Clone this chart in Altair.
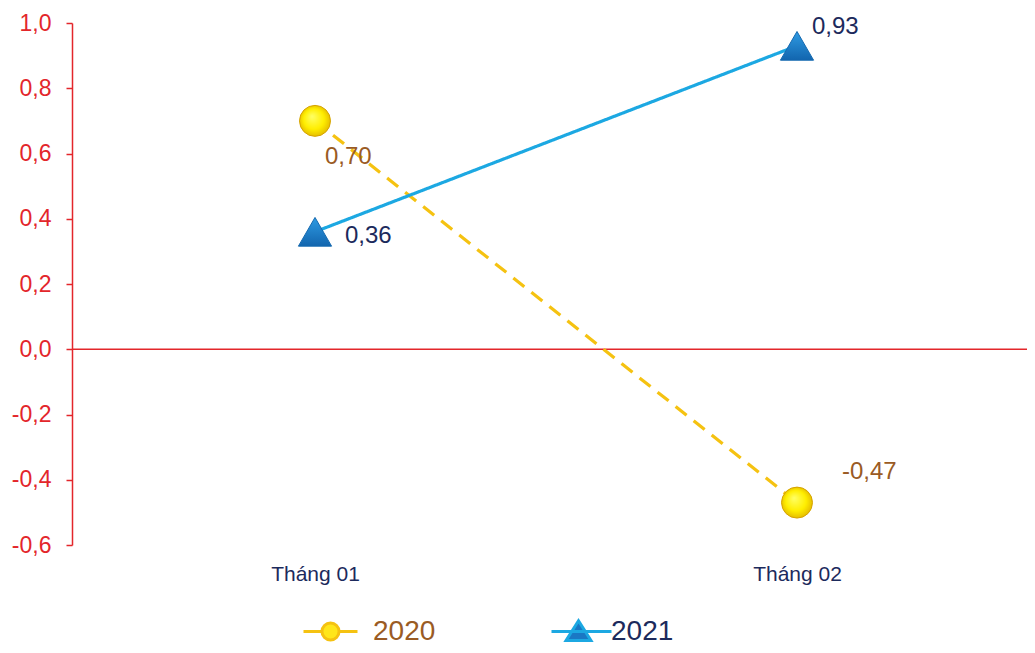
import altair as alt
import pandas as pd

months = ["Tháng 01", "Tháng 02"]
series = ["2020", "2021"]
values_2020 = [0.70, -0.47]
values_2021 = [0.36, 0.93]
y_ticks = [-0.6, -0.4, -0.2, 0.0, 0.2, 0.4, 0.6, 0.8, 1.0]

rows = []
for s, vals in zip(series, [values_2020, values_2021]):
    for m, v in zip(months, vals):
        rows.append({"month": m, "series": s, "value": v,
                     "label": f"{v:.2f}".replace(".", ",")})
df = pd.DataFrame(rows)

FONT = "Liberation Sans"
RED = "#E3262B"
NAVY = "#1C2A5C"
BROWN = "#9A5B24"
GOLD = "#F5C211"
LBLUE = "#1CA8E2"

x_enc = alt.X("month:N", sort=months,
              scale=alt.Scale(paddingInner=0, paddingOuter=0, range=[2, 966]),
              axis=alt.Axis(title=None, domain=False, ticks=False, labelAngle=0,
                            labelPadding=18, labelColor=NAVY, labelFontSize=21,
                            labelFont=FONT, grid=False))
y_scale = alt.Scale(domain=[-0.6, 1.0], nice=False, zero=False)
y_axis = alt.Axis(title=None, values=y_ticks, grid=False,
                  domainColor=RED, tickColor=RED, labelColor=RED,
                  tickSize=6, labelPadding=15, labelFontSize=23,
                  labelFont=FONT, domainWidth=1.5, tickWidth=1.5,
                  labelExpr="(datum.value < -0.0001 ? '-' : '') + replace(format(abs(datum.value), '.1f'), '.', ',')")
y_enc = alt.Y("value:Q", scale=y_scale, axis=y_axis)

base = alt.Chart(df)

zero_rule = alt.Chart(pd.DataFrame({"z": [0]})).mark_rule(color=RED, strokeWidth=1.3).encode(
    y=alt.Y("z:Q", scale=y_scale, axis=y_axis)
)

lines = base.mark_line(strokeWidth=3.2).encode(
    x=x_enc,
    y=y_enc,
    color=alt.Color("series:N",
                    scale=alt.Scale(domain=series, range=[GOLD, LBLUE]),
                    legend=None),
    strokeDash=alt.StrokeDash("series:N",
                              scale=alt.Scale(domain=series, range=[[14, 9], [1, 0]]),
                              legend=None),
)

circle_fill = {
    "gradient": "radial",
    "x1": 0.4, "y1": 0.35, "r1": 0.0,
    "x2": 0.5, "y2": 0.5, "r2": 0.55,
    "stops": [
        {"offset": 0.0, "color": "#FFFF66"},
        {"offset": 0.6, "color": "#FFEE00"},
        {"offset": 1.0, "color": "#E0B400"},
    ],
}
tri_fill = {
    "gradient": "linear",
    "x1": 0, "y1": 0, "x2": 0, "y2": 1,
    "stops": [
        {"offset": 0.0, "color": "#2F9BE3"},
        {"offset": 1.0, "color": "#1265AE"},
    ],
}

# legend layers: tiny symbols hidden beneath the big markers; the legends use symbolSize
legend_paths = {
    "2020": "M-1.8,0L-0.57,0M0.57,0L1.8,0M0.57,0A0.57,0.57 0 1 1 -0.57,0A0.57,0.57 0 1 1 0.57,0Z",
    "2021": "M-1.8,0L2.2,0M0,-0.72L0.83,0.6L-0.83,0.6Z",
}
legend_fill = {"2020": "#FFE61A", "2021": "#1A78C4"}
legend_stroke = {"2020": GOLD, "2021": LBLUE}
legend_label_color = {"2020": BROWN, "2021": NAVY}
legend_x = {"2020": 242, "2021": 490}
legend_offset = {"2020": 26, "2021": 16}

legend_layers = []
for s in series:
    leg = alt.Legend(
        orient="none", legendX=legend_x[s], legendY=592,
        direction="horizontal", title=None, labelFontSize=28, labelFont=FONT,
        labelColor=legend_label_color[s],
        symbolSize=900, symbolStrokeWidth=3, labelOffset=legend_offset[s], padding=0,
    )
    layer = base.transform_filter(alt.datum.series == s).mark_point(
        filled=True, opacity=1, size=16, strokeWidth=1
    ).encode(
        x=x_enc, y=y_enc,
        fill=alt.Fill("series:N", scale=alt.Scale(domain=[s], range=[legend_fill[s]]), legend=leg),
        stroke=alt.Stroke("series:N", scale=alt.Scale(domain=[s], range=[legend_stroke[s]]), legend=leg),
        shape=alt.Shape("series:N", scale=alt.Scale(domain=[s], range=[legend_paths[s]]), legend=leg),
    )
    legend_layers.append(layer)

circles = base.transform_filter(alt.datum.series == "2020").mark_point(
    shape="circle", size=960, filled=True, fill=circle_fill, opacity=1,
    stroke="#D6A300", strokeWidth=1
).encode(x=x_enc, y=y_enc)

triangles = base.transform_filter(alt.datum.series == "2021").mark_point(
    shape="triangle-up", size=1100, filled=True, fill=tri_fill, opacity=1,
    stroke="#1469B0", strokeWidth=1
).encode(x=x_enc, y=y_enc)

label_offsets = {
    ("2020", "Tháng 01"): (10, 36),
    ("2020", "Tháng 02"): (45, -31),
    ("2021", "Tháng 01"): (30, 4),
    ("2021", "Tháng 02"): (15, -19),
}
label_colors = {"2020": BROWN, "2021": NAVY}

texts = []
for (s, m), (dx, dy) in label_offsets.items():
    t = base.transform_filter(
        (alt.datum.series == s) & (alt.datum.month == m)
    ).mark_text(align="left", baseline="middle", dx=dx, dy=dy,
                fontSize=24, font=FONT, color=label_colors[s]).encode(
        x=x_enc, y=y_enc, text="label:N")
    texts.append(t)

chart = alt.layer(zero_rule, lines, *legend_layers, circles, triangles, *texts).resolve_scale(
    fill="independent", stroke="independent", shape="independent"
).resolve_legend(
    fill="independent", stroke="independent", shape="independent"
).properties(
    width=955, height=522,
    background="white",
    autosize=alt.AutoSizeParams(type="none"),
    padding={"left": 64, "top": 15, "right": 0, "bottom": 100},
).configure_view(stroke=None)

chart.save("out.html", embed_options={"renderer": "svg", "actions": False})
